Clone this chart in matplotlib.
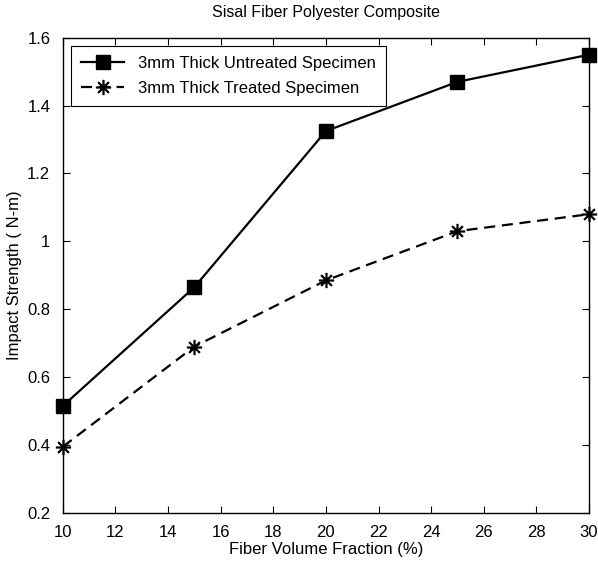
import matplotlib
matplotlib.use("Agg")
from matplotlib import pyplot as plt
from matplotlib.path import Path

fiber_volume = [10, 15, 20, 25, 30]
untreated = [0.515, 0.865, 1.325, 1.47, 1.55]
treated = [0.395, 0.69, 0.885, 1.03, 1.08]

x_ticks = [10, 12, 14, 16, 18, 20, 22, 24, 26, 28, 30]
y_ticks = [0.2, 0.4, 0.6, 0.8, 1.0, 1.2, 1.4, 1.6]
y_labels = ['0.2', '0.4', '0.6', '0.8', '1', '1.2', '1.4', '1.6']

# 8-arm asterisk like matlab '*'
d = 0.7071
asterisk = Path(
    [(-1, 0), (1, 0), (0, -1), (0, 1), (-d, -d), (d, d), (-d, d), (d, -d)],
    [Path.MOVETO, Path.LINETO] * 4,
)

plt.rcParams['font.family'] = ['Liberation Sans', 'DejaVu Sans']

fig = plt.figure(figsize=(5.98, 5.63), dpi=100)
ax = fig.add_axes([0.105, 0.089, 0.88, 0.844])

ax.plot(fiber_volume, untreated, color='black', linestyle='-', linewidth=1.6,
        marker='s', markersize=10, markerfacecolor='black', clip_on=False,
        label='3mm Thick Untreated Specimen')
ax.plot(fiber_volume, treated, color='black', linestyle='--', linewidth=1.6,
        dashes=(5, 3), marker=asterisk, markersize=11, markeredgewidth=1.6,
        clip_on=False, label='3mm Thick Treated Specimen')

ax.set_xlim(10, 30)
ax.set_ylim(0.2, 1.6)
ax.set_xticks(x_ticks)
ax.set_yticks(y_ticks)
ax.set_yticklabels(y_labels)
ax.tick_params(direction='in', top=True, right=True, labelsize=12, length=5, width=0.8)
ax.tick_params(axis='x', pad=9)
ax.tick_params(axis='y', pad=9)
for s in ax.spines.values():
    s.set_linewidth(1.0)

ax.set_title('Sisal Fiber Polyester Composite', fontsize=11.5, pad=15)
ax.set_xlabel('Fiber Volume Fraction (%)', fontsize=12, labelpad=1)
ax.set_ylabel('Impact Strength ( N-m)', fontsize=12, labelpad=4)

leg = ax.legend(loc='upper left', fontsize=12, fancybox=False, framealpha=1,
                edgecolor='black', handlelength=2.6, borderaxespad=0.5,
                borderpad=0.6, labelspacing=0.6)
leg.get_frame().set_linewidth(0.8)

fig.savefig('out.png', dpi=100)
